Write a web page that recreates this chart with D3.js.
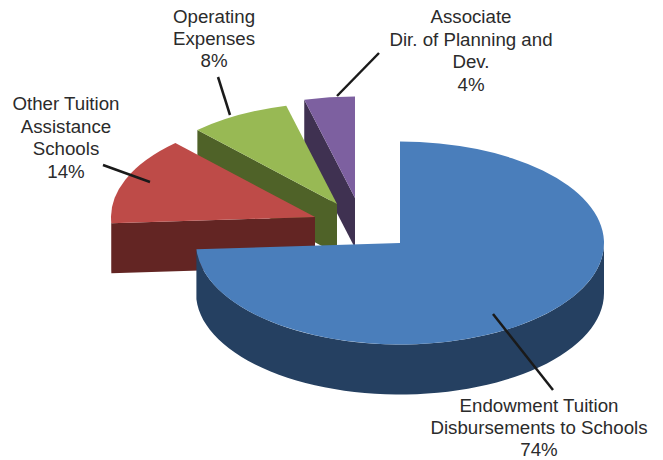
<!DOCTYPE html>
<html>
<head>
<meta charset="utf-8">
<style>
  html, body { margin: 0; padding: 0; background: #fff; }
  text { font-family: "Liberation Sans", Arial, sans-serif; font-size: 18.7px; fill: #2b2b2b; }
</style>
<script src="https://cdn.jsdelivr.net/npm/d3@7"></script>
</head>
<body>
<svg id="chart"></svg>
<script>
const categories = [
  ['Endowment Tuition', 'Disbursements to Schools'],
  ['Other Tuition', 'Assistance', 'Schools'],
  ['Operating', 'Expenses'],
  ['Associate', 'Dir. of Planning and', 'Dev.']
];
const shares = [74, 14, 8, 4];

const topColors = ['#4a7ebb', '#be4b48', '#98b954', '#7d60a0'];
const sideColors = ['#254061', '#632523', '#4f6228', '#3f3151'];

// where each exploded slice has its tip
const tips = [[400, 243], [315, 217], [337, 204], [355, 198]];
// label centre x, first baseline, line step
const labelPos = [[539, 412, 22], [66, 110, 22.5], [214, 23, 22], [471, 23, 22.7]];
const leaders = [
  [[493, 314], [553, 390]],
  [[103, 165], [150, 182]],
  [[218, 77], [230, 115]],
  [[379, 53], [337, 96]]
];

function makeChart() {
  let w = 663;
  let h = 460;
  let rx = 204;
  let ry = 101.5;
  let depth = 50;

  let chart = d3.select('#chart')
    .attr('width', w)
    .attr('height', h)
    .style('display', 'block');

  let slices = d3.pie().sort(null)(shares);
  let arc = d3.arc().innerRadius(0).outerRadius(rx);

  let rim = a => [rx * Math.sin(a), -ry * Math.cos(a)];
  let line = d3.line();

  // back slices first so the big one ends up on top
  let groups = chart.selectAll('g.slice')
    .data(slices)
    .enter()
    .append('g')
    .attr('class', 'slice')
    .attr('transform', (d, i) => `translate(${tips[i][0]},${tips[i][1]})`)
    .sort((a, b) => b.index - a.index);

  // cut face, only the ones turned toward the viewer
  groups.filter(d => d.startAngle > Math.PI)
    .append('path')
    .attr('fill', d => sideColors[d.index])
    .attr('d', d => {
      let p = rim(d.startAngle);
      return line([[0, 0], p, [p[0], p[1] + depth], [0, depth]]) + 'Z';
    });

  // outer wall, front half of the ellipse only
  groups.append('path')
    .attr('fill', d => sideColors[d.index])
    .attr('d', d => {
      let a0 = Math.max(d.startAngle, Math.PI / 2);
      let a1 = Math.min(d.endAngle, Math.PI * 1.5);
      if (a1 <= a0) return null;
      let upper = d3.range(0, 61).map(k => rim(a0 + (a1 - a0) * k / 60));
      let lower = upper.slice().reverse().map(p => [p[0], p[1] + depth]);
      return line(upper.concat(lower)) + 'Z';
    });

  groups.append('path')
    .attr('fill', d => topColors[d.index])
    .attr('transform', `scale(1,${ry / rx})`)
    .attr('d', arc);

  chart.selectAll('line.leader')
    .data(leaders)
    .enter()
    .append('line')
    .attr('class', 'leader')
    .attr('x1', d => d[0][0])
    .attr('y1', d => d[0][1])
    .attr('x2', d => d[1][0])
    .attr('y2', d => d[1][1])
    .attr('stroke', '#1a1a1a')
    .attr('stroke-width', 2.5);

  let labels = chart.selectAll('text.label')
    .data(categories)
    .enter()
    .append('text')
    .attr('class', 'label')
    .attr('text-anchor', 'middle');

  labels.selectAll('tspan')
    .data((d, i) => d.concat(shares[i] + '%').map(t => ({ t: t, i: i })))
    .enter()
    .append('tspan')
    .attr('x', d => labelPos[d.i][0])
    .attr('y', (d, k) => labelPos[d.i][1] + k * labelPos[d.i][2])
    .text(d => d.t);
}

window.onload = function () {
  makeChart();
}
</script>
</body>
</html>
